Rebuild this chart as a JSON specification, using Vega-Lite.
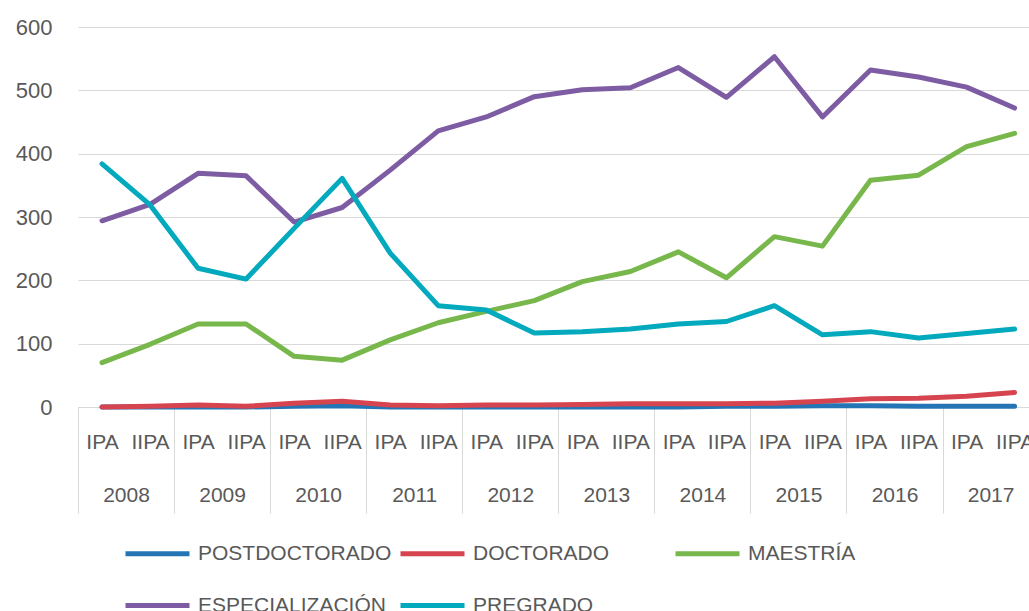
{
  "$schema": "https://vega.github.io/schema/vega-lite/v6.json",
  "autosize": {"type": "none"},
  "padding": {"left": 78, "top": 27, "right": 0, "bottom": 204},
  "width": 951,
  "height": 380,
  "background": "white",
  "config": {
    "font": "Liberation Sans",
    "view": {"stroke": null}
  },
  "datasets": {
    "series": [
      {"serie": "POSTDOCTORADO", "idx": 0, "value": 0},
      {"serie": "POSTDOCTORADO", "idx": 1, "value": 0},
      {"serie": "POSTDOCTORADO", "idx": 2, "value": 0},
      {"serie": "POSTDOCTORADO", "idx": 3, "value": 0},
      {"serie": "POSTDOCTORADO", "idx": 4, "value": 1},
      {"serie": "POSTDOCTORADO", "idx": 5, "value": 2},
      {"serie": "POSTDOCTORADO", "idx": 6, "value": 0},
      {"serie": "POSTDOCTORADO", "idx": 7, "value": 0},
      {"serie": "POSTDOCTORADO", "idx": 8, "value": 0},
      {"serie": "POSTDOCTORADO", "idx": 9, "value": 0},
      {"serie": "POSTDOCTORADO", "idx": 10, "value": 0},
      {"serie": "POSTDOCTORADO", "idx": 11, "value": 0},
      {"serie": "POSTDOCTORADO", "idx": 12, "value": 0},
      {"serie": "POSTDOCTORADO", "idx": 13, "value": 1},
      {"serie": "POSTDOCTORADO", "idx": 14, "value": 1},
      {"serie": "POSTDOCTORADO", "idx": 15, "value": 2},
      {"serie": "POSTDOCTORADO", "idx": 16, "value": 2},
      {"serie": "POSTDOCTORADO", "idx": 17, "value": 1},
      {"serie": "POSTDOCTORADO", "idx": 18, "value": 1},
      {"serie": "POSTDOCTORADO", "idx": 19, "value": 1},
      {"serie": "DOCTORADO", "idx": 0, "value": 0},
      {"serie": "DOCTORADO", "idx": 1, "value": 1},
      {"serie": "DOCTORADO", "idx": 2, "value": 3},
      {"serie": "DOCTORADO", "idx": 3, "value": 1},
      {"serie": "DOCTORADO", "idx": 4, "value": 6},
      {"serie": "DOCTORADO", "idx": 5, "value": 9},
      {"serie": "DOCTORADO", "idx": 6, "value": 3},
      {"serie": "DOCTORADO", "idx": 7, "value": 2},
      {"serie": "DOCTORADO", "idx": 8, "value": 3},
      {"serie": "DOCTORADO", "idx": 9, "value": 3},
      {"serie": "DOCTORADO", "idx": 10, "value": 4},
      {"serie": "DOCTORADO", "idx": 11, "value": 5},
      {"serie": "DOCTORADO", "idx": 12, "value": 5},
      {"serie": "DOCTORADO", "idx": 13, "value": 5},
      {"serie": "DOCTORADO", "idx": 14, "value": 6},
      {"serie": "DOCTORADO", "idx": 15, "value": 9},
      {"serie": "DOCTORADO", "idx": 16, "value": 13},
      {"serie": "DOCTORADO", "idx": 17, "value": 14},
      {"serie": "DOCTORADO", "idx": 18, "value": 17},
      {"serie": "DOCTORADO", "idx": 19, "value": 23},
      {"serie": "MAESTRÍA", "idx": 0, "value": 70},
      {"serie": "MAESTRÍA", "idx": 1, "value": 99},
      {"serie": "MAESTRÍA", "idx": 2, "value": 131},
      {"serie": "MAESTRÍA", "idx": 3, "value": 131},
      {"serie": "MAESTRÍA", "idx": 4, "value": 80},
      {"serie": "MAESTRÍA", "idx": 5, "value": 74},
      {"serie": "MAESTRÍA", "idx": 6, "value": 106},
      {"serie": "MAESTRÍA", "idx": 7, "value": 133},
      {"serie": "MAESTRÍA", "idx": 8, "value": 151},
      {"serie": "MAESTRÍA", "idx": 9, "value": 168},
      {"serie": "MAESTRÍA", "idx": 10, "value": 198},
      {"serie": "MAESTRÍA", "idx": 11, "value": 214},
      {"serie": "MAESTRÍA", "idx": 12, "value": 245},
      {"serie": "MAESTRÍA", "idx": 13, "value": 204},
      {"serie": "MAESTRÍA", "idx": 14, "value": 269},
      {"serie": "MAESTRÍA", "idx": 15, "value": 254},
      {"serie": "MAESTRÍA", "idx": 16, "value": 358},
      {"serie": "MAESTRÍA", "idx": 17, "value": 366},
      {"serie": "MAESTRÍA", "idx": 18, "value": 411},
      {"serie": "MAESTRÍA", "idx": 19, "value": 432},
      {"serie": "ESPECIALIZACIÓN", "idx": 0, "value": 294},
      {"serie": "ESPECIALIZACIÓN", "idx": 1, "value": 320},
      {"serie": "ESPECIALIZACIÓN", "idx": 2, "value": 369},
      {"serie": "ESPECIALIZACIÓN", "idx": 3, "value": 365},
      {"serie": "ESPECIALIZACIÓN", "idx": 4, "value": 292},
      {"serie": "ESPECIALIZACIÓN", "idx": 5, "value": 315},
      {"serie": "ESPECIALIZACIÓN", "idx": 6, "value": 374},
      {"serie": "ESPECIALIZACIÓN", "idx": 7, "value": 436},
      {"serie": "ESPECIALIZACIÓN", "idx": 8, "value": 458},
      {"serie": "ESPECIALIZACIÓN", "idx": 9, "value": 490},
      {"serie": "ESPECIALIZACIÓN", "idx": 10, "value": 501},
      {"serie": "ESPECIALIZACIÓN", "idx": 11, "value": 504},
      {"serie": "ESPECIALIZACIÓN", "idx": 12, "value": 536},
      {"serie": "ESPECIALIZACIÓN", "idx": 13, "value": 489},
      {"serie": "ESPECIALIZACIÓN", "idx": 14, "value": 553},
      {"serie": "ESPECIALIZACIÓN", "idx": 15, "value": 458},
      {"serie": "ESPECIALIZACIÓN", "idx": 16, "value": 532},
      {"serie": "ESPECIALIZACIÓN", "idx": 17, "value": 521},
      {"serie": "ESPECIALIZACIÓN", "idx": 18, "value": 505},
      {"serie": "ESPECIALIZACIÓN", "idx": 19, "value": 472},
      {"serie": "PREGRADO", "idx": 0, "value": 384},
      {"serie": "PREGRADO", "idx": 1, "value": 319},
      {"serie": "PREGRADO", "idx": 2, "value": 219},
      {"serie": "PREGRADO", "idx": 3, "value": 202},
      {"serie": "PREGRADO", "idx": 4, "value": 282},
      {"serie": "PREGRADO", "idx": 5, "value": 361},
      {"serie": "PREGRADO", "idx": 6, "value": 243},
      {"serie": "PREGRADO", "idx": 7, "value": 160},
      {"serie": "PREGRADO", "idx": 8, "value": 153},
      {"serie": "PREGRADO", "idx": 9, "value": 117},
      {"serie": "PREGRADO", "idx": 10, "value": 119},
      {"serie": "PREGRADO", "idx": 11, "value": 123},
      {"serie": "PREGRADO", "idx": 12, "value": 131},
      {"serie": "PREGRADO", "idx": 13, "value": 135},
      {"serie": "PREGRADO", "idx": 14, "value": 160},
      {"serie": "PREGRADO", "idx": 15, "value": 114},
      {"serie": "PREGRADO", "idx": 16, "value": 119},
      {"serie": "PREGRADO", "idx": 17, "value": 109},
      {"serie": "PREGRADO", "idx": 18, "value": 116},
      {"serie": "PREGRADO", "idx": 19, "value": 123}
    ]
  },
  "data": {"name": "series"},
  "mark": {"type": "line", "strokeWidth": 5, "strokeJoin": "round", "strokeCap": "round", "clip": false},
  "encoding": {
    "x": {
      "field": "idx",
      "type": "quantitative",
      "scale": {"domain": [-0.5, 19.3], "nice": false, "zero": false},
      "axis": {
        "title": null,
        "values": [-0.5, 0, 0.5, 1, 1.5, 2, 2.5, 3, 3.5, 4, 4.5, 5, 5.5, 6, 6.5, 7, 7.5, 8, 8.5, 9, 9.5, 10, 10.5, 11, 11.5, 12, 12.5, 13, 13.5, 14, 14.5, 15, 15.5, 16, 16.5, 17, 17.5, 18, 18.5, 19],
        "labelExpr": "datum.value % 1 == 0 ? (datum.value % 2 == 0 ? 'IPA' : 'IIPA') : ((datum.value - 0.5) % 2 == 0 ? ['2008','2009','2010','2011','2012','2013','2014','2015','2016','2017'][(datum.value - 0.5) / 2] : '')",
        "labelPadding": {"condition": {"test": "datum.value % 1 == 0", "value": 24}, "value": 77},
        "tickSize": {"condition": {"test": "(datum.value + 0.5) % 2 == 0", "value": 106}, "value": 0},
        "tickColor": "#d9d9d9",
        "tickWidth": 1,
        "domainColor": "#d9d9d9",
        "domainWidth": 1,
        "grid": false,
        "labelOverlap": false,
        "labelFlush": false,
        "labelFontSize": 21,
        "labelColor": "#595959",
        "labelFont": "Liberation Sans"
      }
    },
    "y": {
      "field": "value",
      "type": "quantitative",
      "scale": {"domain": [0, 600], "nice": false},
      "axis": {
        "title": null,
        "values": [0, 100, 200, 300, 400, 500, 600],
        "domain": false,
        "ticks": false,
        "grid": true,
        "gridColor": "#d9d9d9",
        "gridWidth": 1,
        "labelPadding": 26,
        "labelFontSize": 22,
        "labelColor": "#595959",
        "labelFont": "Liberation Sans"
      }
    },
    "color": {
      "field": "serie",
      "type": "nominal",
      "sort": ["POSTDOCTORADO", "DOCTORADO", "MAESTRÍA", "ESPECIALIZACIÓN", "PREGRADO"],
      "scale": {
        "domain": ["POSTDOCTORADO", "DOCTORADO", "MAESTRÍA", "ESPECIALIZACIÓN", "PREGRADO"],
        "range": ["#2475B5", "#D6454F", "#78B74B", "#7E5CA3", "#03A9BC"]
      },
      "legend": {
        "title": null,
        "orient": "none",
        "legendX": 45,
        "legendY": 492,
        "direction": "horizontal",
        "columns": 3,
        "gridAlign": "all",
        "columnPadding": -2,
        "rowPadding": 7,
        "symbolType": "stroke",
        "symbolSize": 4096,
        "symbolStrokeWidth": 5,
        "labelOffset": 6,
        "labelFontSize": 21,
        "labelColor": "#595959",
        "labelFont": "Liberation Sans",
        "labelLimit": 400
      }
    }
  }
}
